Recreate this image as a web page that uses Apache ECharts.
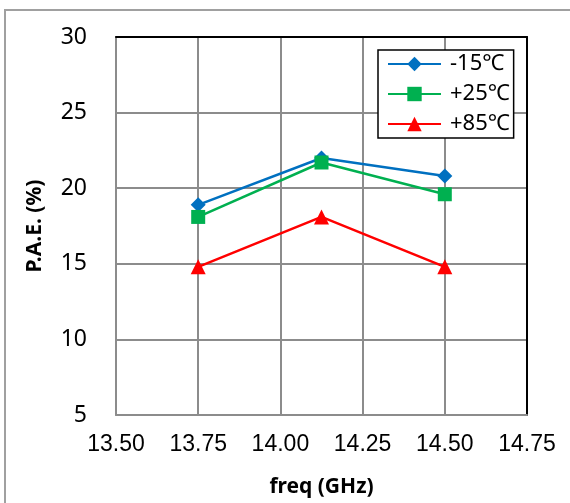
<!DOCTYPE html>
<html><head><meta charset="utf-8">
<script src="https://cdn.jsdelivr.net/npm/echarts@6/dist/echarts.min.js"></script>
<style>html,body{margin:0;padding:0;background:#fff}#c{width:570px;height:503px}</style>
</head><body><div id="c"></div>
<script>
const seriesNames = ['-15℃', '+25℃', '+85℃'];
const freqs = [13.75, 14.125, 14.5];
const pae_m15 = [18.9, 22.0, 20.8];
const pae_p25 = [18.1, 21.7, 19.6];
const pae_p85 = [14.8, 18.1, 14.8];
const colors = ['#0070C0', '#00B050', '#FF0000'];
const symbols = ['diamond', 'rect', 'triangle'];
const symbolSizes = [15, 14, 15];
const allVals = [pae_m15, pae_p25, pae_p85];

const chart = echarts.init(document.getElementById('c'), null, {renderer: 'canvas'});
chart.setOption({
  animation: false,
  graphic: [{type: 'rect', shape: {x: 5, y: 10, width: 620, height: 560}, style: {fill: 'none', stroke: '#a0a0a0', lineWidth: 2}, z: -10}],
  grid: {left: 116, top: 37, right: 43, bottom: 87, show: false},
  legend: {
    orient: 'vertical', left: 378, top: 50,
    data: seriesNames,
    backgroundColor: '#fff', borderColor: '#000', borderWidth: 1.5, borderRadius: 0,
    padding: [3, 4, 3, 9],
    itemWidth: 53, itemHeight: 18, itemGap: 8,
    textStyle: {fontFamily: 'Noto Sans', fontSize: 22, color: '#000', lineHeight: 18, padding: [0, 0, 0, 4]}
  },
  xAxis: [{
    type: 'value', min: 13.5, max: 14.75, interval: 0.25,
    name: 'freq (GHz)', nameLocation: 'middle', nameGap: 62,
    nameTextStyle: {fontFamily: 'Noto Sans', fontWeight: 'bold', fontSize: 21, color: '#000'},
    axisLine: {show: true, lineStyle: {color: '#8c8c8c', width: 2}},
    axisTick: {show: false},
    axisLabel: {fontFamily: 'Liberation Sans', fontSize: 23, color: '#000', margin: 18, formatter: v => v.toFixed(2)},
    splitLine: {show: true, lineStyle: {color: '#8c8c8c', width: 2}}
  }, {
    type: 'value', position: 'top', min: 13.5, max: 14.75, interval: 0.25,
    axisLine: {show: true, onZero: false, lineStyle: {color: '#000', width: 2}},
    axisTick: {show: false}, axisLabel: {show: false}, splitLine: {show: false}
  }],
  yAxis: [{
    type: 'value', min: 5, max: 30, interval: 5,
    name: 'P.A.E. (%)', nameLocation: 'middle', nameGap: 70,
    nameTextStyle: {fontFamily: 'Noto Sans', fontWeight: 'bold', fontSize: 21, color: '#000'},
    axisLine: {show: true, lineStyle: {color: '#8c8c8c', width: 2}},
    axisTick: {show: false},
    axisLabel: {fontFamily: 'Noto Sans', fontSize: 23, color: '#000', margin: 29},
    splitLine: {show: true, lineStyle: {color: '#8c8c8c', width: 2}}
  }, {
    type: 'value', position: 'right', min: 5, max: 30, interval: 5,
    axisLine: {show: true, onZero: false, lineStyle: {color: '#000', width: 2}},
    axisTick: {show: false}, axisLabel: {show: false}, splitLine: {show: false}
  }],
  series: seriesNames.map((n, i) => ({
    name: n, type: 'line',
    data: freqs.map((f, j) => [f, allVals[i][j]]),
    symbol: symbols[i], symbolSize: symbolSizes[i],
    itemStyle: {color: colors[i]},
    lineStyle: {color: colors[i], width: 2.5},
    z: 5 + i
  }))
});
</script></body></html>
